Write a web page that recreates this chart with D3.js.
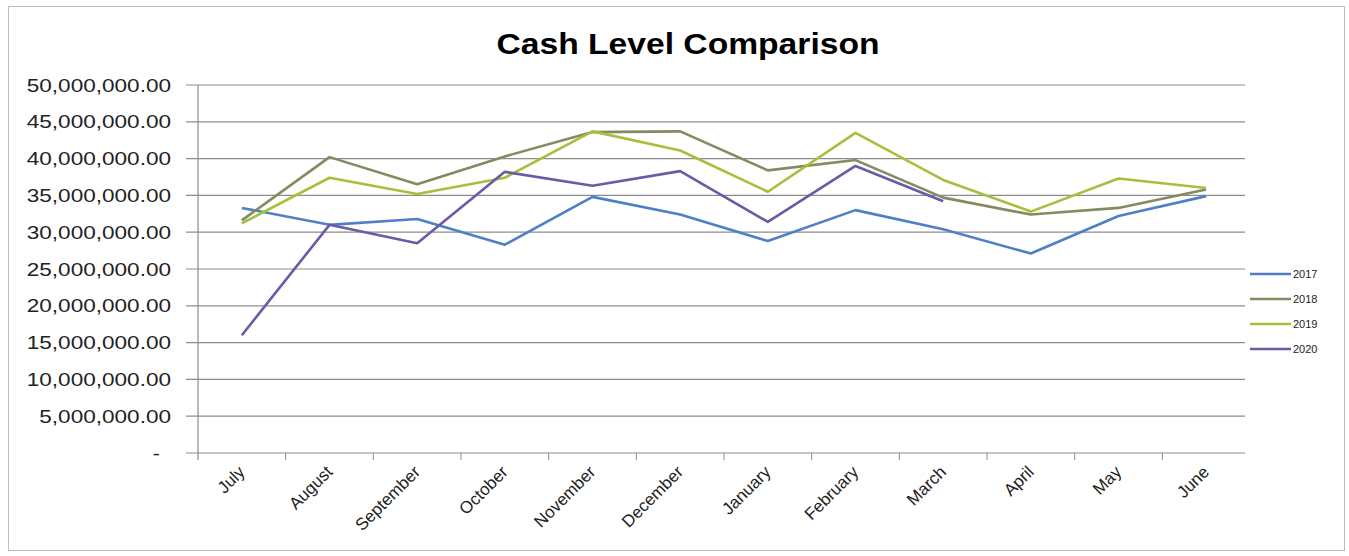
<!DOCTYPE html>
<html>
<head>
<meta charset="utf-8">
<script src="https://cdn.jsdelivr.net/npm/d3@7"></script>
<style>
  body { margin: 0; background: #fff; }
  svg { display: block; font-family: "Liberation Sans", Arial, sans-serif; }
</style>
</head>
<body>
<svg id="chart" width="1349" height="556"></svg>
<script>
var months = ["July", "August", "September", "October", "November", "December",
  "January", "February", "March", "April", "May", "June"]
var years = ["2017", "2018", "2019", "2020"]
var yTicks = [0, 5e6, 10e6, 15e6, 20e6, 25e6, 30e6, 35e6, 40e6, 45e6, 50e6]

var cash2017 = [33.3e6, 31.0e6, 31.8e6, 28.3e6, 34.8e6, 32.4e6, 28.8e6, 33.0e6, 30.4e6, 27.1e6, 32.2e6, 34.9e6]
var cash2018 = [31.6e6, 40.2e6, 36.5e6, 40.3e6, 43.6e6, 43.7e6, 38.4e6, 39.8e6, 34.7e6, 32.4e6, 33.3e6, 35.8e6]
var cash2019 = [31.2e6, 37.4e6, 35.2e6, 37.4e6, 43.7e6, 41.1e6, 35.5e6, 43.5e6, 37.1e6, 32.8e6, 37.3e6, 36.0e6]
var cash2020 = [16.0e6, 31.0e6, 28.5e6, 38.2e6, 36.3e6, 38.3e6, 31.4e6, 39.0e6, 34.2e6]

var series = [cash2017, cash2018, cash2019, cash2020]
var colors = ["#4f7fc4", "#858a62", "#a3c23c", "#6a5ba6"]

var svg = d3.select("#chart")

// outer frame
svg.append("rect")
  .attr("x", 8.5).attr("y", 6.5)
  .attr("width", 1336).attr("height", 544)
  .attr("fill", "none").attr("stroke", "#bdbdbd")

// text in the original is a bit wider than Arial, so stretch it horizontally
svg.append("text")
  .attr("transform", "translate(688,54) scale(1.16,1)")
  .attr("text-anchor", "middle")
  .style("font-size", "29px").style("font-weight", "bold")
  .text("Cash Level Comparison")

var plotLeft = 198, plotRight = 1250, plotTop = 85, plotBottom = 453

var x = d3.scaleBand().domain(months).range([plotLeft, plotRight])
var y = d3.scaleLinear().domain([0, 50e6]).range([plotBottom, plotTop])

var fmt = d3.format(",.2f")

// gridlines + y labels
svg.append("g")
  .selectAll("line")
  .data(yTicks.slice(1))
  .enter().append("line")
  .attr("x1", plotLeft - 12).attr("x2", 1245)
  .attr("y1", function(d) { return y(d) }).attr("y2", function(d) { return y(d) })
  .attr("stroke", "#8c8c8c").attr("stroke-width", 1.2)

svg.append("g")
  .selectAll("text")
  .data(yTicks)
  .enter().append("text")
  .attr("transform", function(d) {
    return "translate(" + (d === 0 ? 160 : 171) + "," + (y(d) + 6.5) + ") scale(1.22,1)"
  })
  .attr("text-anchor", "end")
  .style("font-size", "18.5px").style("fill", "#222")
  .text(function(d) { return d === 0 ? "-" : fmt(d) })

// axes
svg.append("line")
  .attr("x1", plotLeft).attr("x2", plotLeft)
  .attr("y1", plotTop).attr("y2", plotBottom + 7)
  .attr("stroke", "#8c8c8c").attr("stroke-width", 1.2)
svg.append("line")
  .attr("x1", plotLeft - 12).attr("x2", 1245)
  .attr("y1", plotBottom).attr("y2", plotBottom)
  .attr("stroke", "#8c8c8c").attr("stroke-width", 1.2)

svg.append("g")
  .selectAll("line")
  .data(months.slice(1))
  .enter().append("line")
  .attr("x1", function(d) { return x(d) }).attr("x2", function(d) { return x(d) })
  .attr("y1", plotBottom).attr("y2", plotBottom + 7)
  .attr("stroke", "#8c8c8c")

svg.append("g")
  .selectAll("text")
  .data(months)
  .enter().append("text")
  .attr("transform", function(d) {
    return "translate(" + (x(d) + x.bandwidth() / 2 + 4) + "," + (plotBottom + 20) + ") rotate(-45)"
  })
  .attr("text-anchor", "end")
  .style("font-size", "17px").style("fill", "#222")
  .text(function(d) { return d })

// lines
var line = d3.line()
  .x(function(d, i) { return x(months[i]) + x.bandwidth() / 2 })
  .y(function(d) { return y(d) })

svg.append("g")
  .selectAll("path")
  .data(series)
  .enter().append("path")
  .attr("d", function(d) { return line(d) })
  .attr("fill", "none")
  .attr("stroke", function(d, i) { return colors[i] })
  .attr("stroke-width", 2.6)
  .attr("stroke-linejoin", "round")

// legend
var legend = svg.append("g")
  .selectAll("g")
  .data(years)
  .enter().append("g")
  .attr("transform", function(d, i) { return "translate(1250," + (274 + i * 25) + ")" })

legend.append("line")
  .attr("x1", 0).attr("x2", 41)
  .attr("stroke", function(d, i) { return colors[i] })
  .attr("stroke-width", 2.6)
legend.append("text")
  .attr("x", 43).attr("y", 4)
  .style("font-size", "11px").style("fill", "#222")
  .text(function(d) { return d })
</script>
</body>
</html>
